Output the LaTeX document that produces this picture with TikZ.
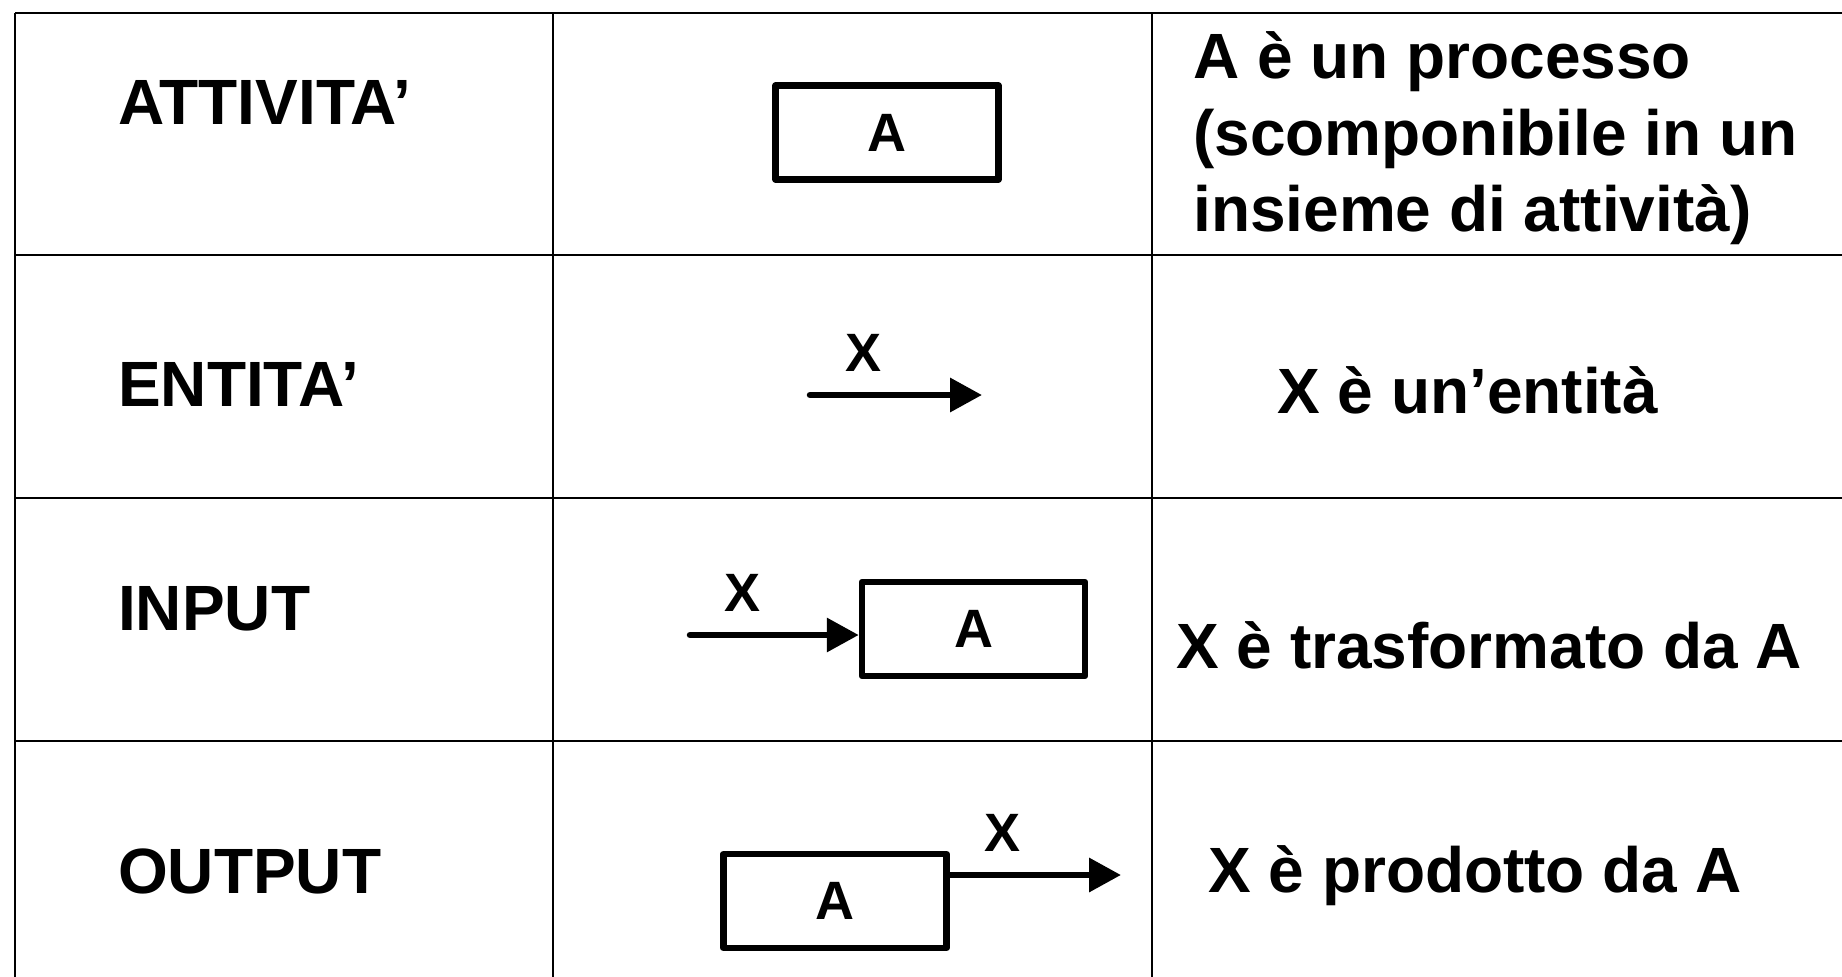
\documentclass[tikz,border=0pt]{standalone}
\usepackage{fontspec}
\setmainfont{Liberation Sans}
\usetikzlibrary{arrows.meta, positioning}
\tikzstyle{grid} = [draw, line width=2.5pt]
\tikzstyle{abox} = [rectangle, draw, line width=6.5pt, line join=round, minimum width=223pt, minimum height=94pt, inner sep=0pt, font=\fontsize{54}{60}\selectfont\bfseries]
\tikzstyle{flow} = [draw, line width=6.5pt, line cap=round, -{Triangle[length=32pt, width=33pt]}]
\tikzstyle{bigtxt} = [inner sep=0pt, anchor=base west, font=\fontsize{64}{77}\selectfont\bfseries]
\tikzstyle{xlab} = [inner sep=0pt, anchor=base, font=\fontsize{54}{60}\selectfont\bfseries]

\begin{document}
\begin{tikzpicture}[x=1pt, y=-1pt]
			\useasboundingbox (0,0) rectangle (1842,977);
			% table
			\path [grid] (15,13) -- (1842,13);
			\path [grid] (15,255) -- (1842,255);
			\path [grid] (15,498) -- (1842,498);
			\path [grid] (15,741) -- (1842,741);
			\path [grid] (15,13) -- (15,977);
			\path [grid] (553,13) -- (553,977);
			\path [grid] (1152,13) -- (1152,977);
			
			\node [bigtxt] (attivita) at (118,124) {ATTIVITA’};
			\node [bigtxt] (entita) at (118,406) {ENTITA’};
			\node [bigtxt] (input) at (118,630) {INPUT};
			\node [bigtxt] (output) at (118,893) {OUTPUT};
			
			\node [abox] (actA) at (887,132.5) {A};
			\coordinate (entstart) at (810,395);
			\coordinate (entend) at (982,395);
			\node [xlab] (entX) at (863,371) {X};
			\coordinate (instart) at (690,635);
			\node [abox] (inA) at (973.5,629) {A};
			\node [xlab] (inX) at (742,611) {X};
			\node [abox] (outA) at (835,901) {A};
			\coordinate (outend) at (1121,875);
			\node [xlab] (outX) at (1002,851) {X};
			
			\node [bigtxt] (descA1) at (1193,78) {A è un processo};
			\node [bigtxt] (descA2) at (1193,155) {(scomponibile in un};
			\node [bigtxt] (descA3) at (1193,231) {insieme di attività)};
			\node [bigtxt] (descX) at (1277,413) {X è un’entità};
			\node [bigtxt] (descIn) at (1176,668) {X è trasformato da A};
			\node [bigtxt] (descOut) at (1208,892) {X è prodotto da A};
			
			\path [flow] (entstart) -- (entend);
			\path [flow] (instart) -- (instart -| inA.west);
			\path [flow] (outA.east |- outend) -- (outend);
		\end{tikzpicture}
\end{document}
